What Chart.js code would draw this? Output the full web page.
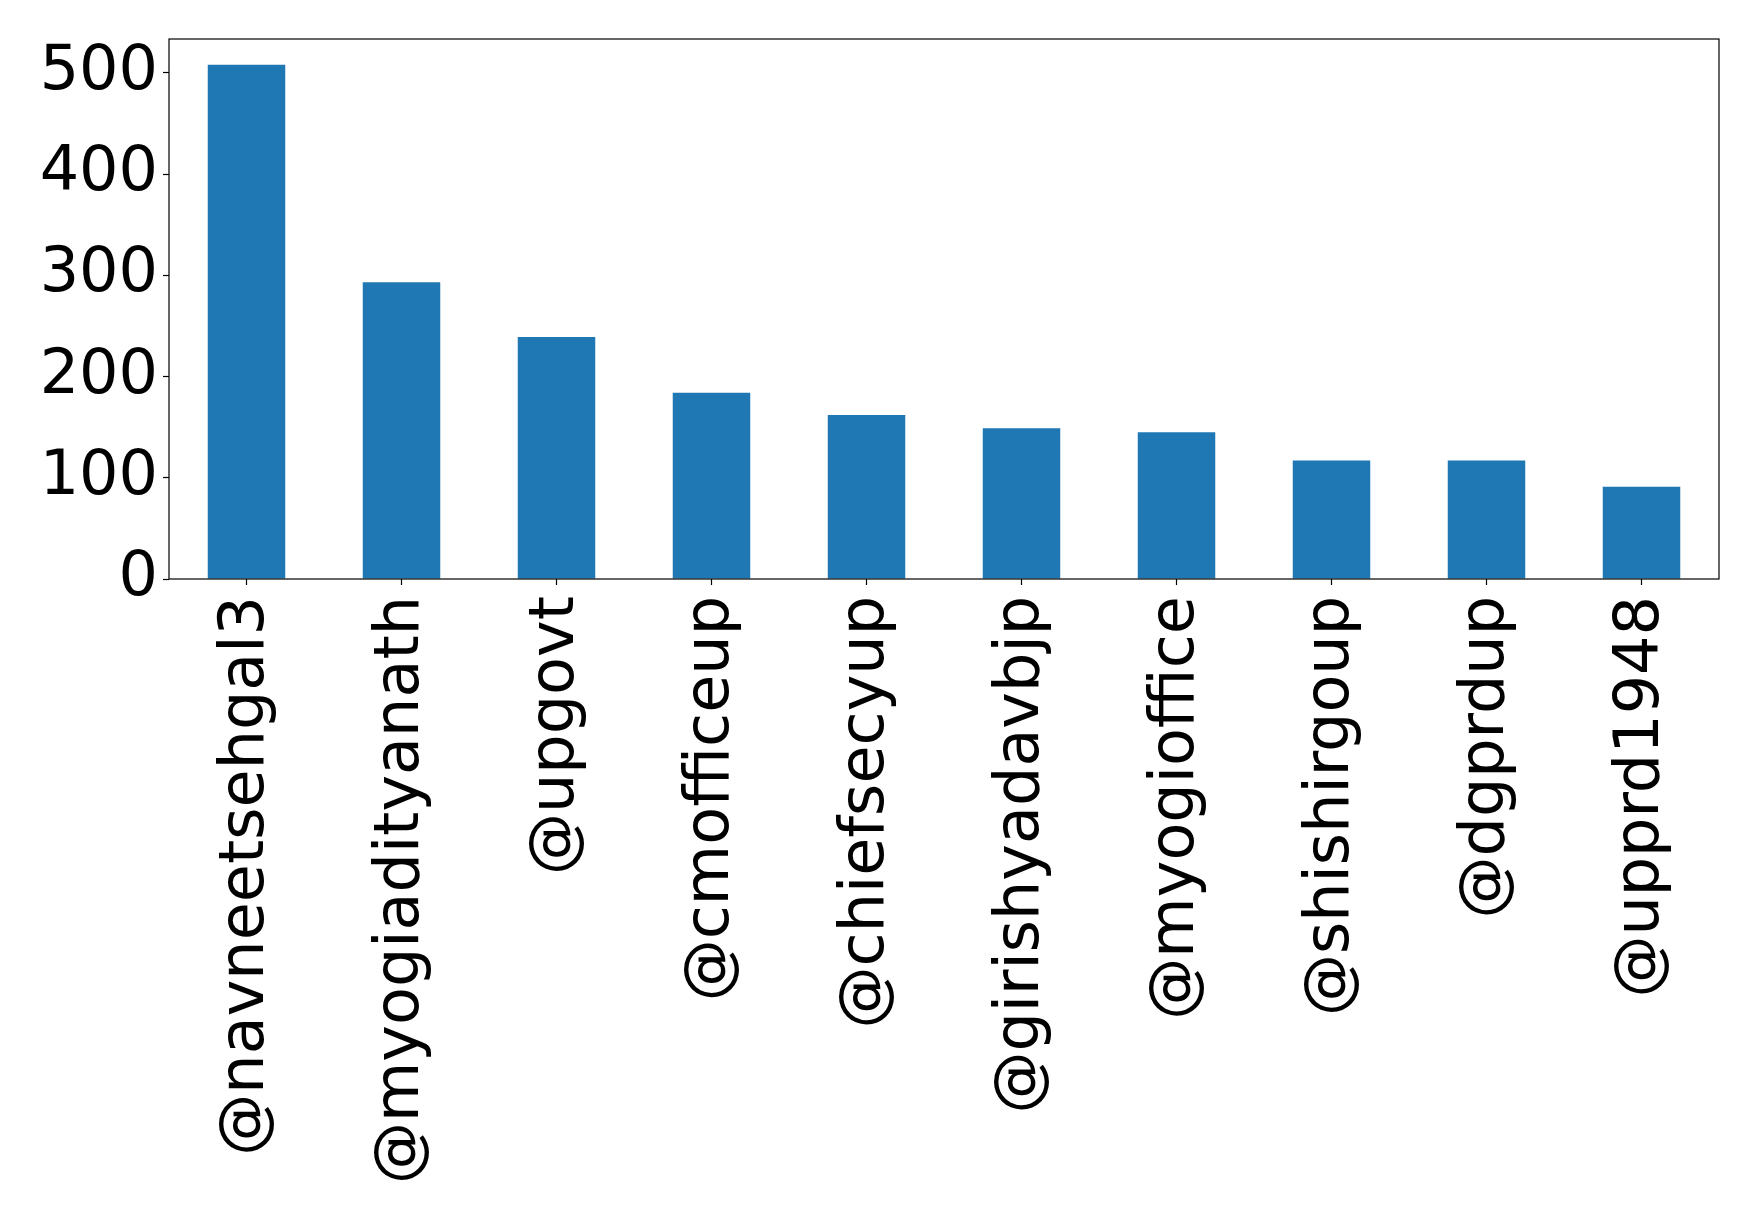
<!DOCTYPE html>
<html>
<head>
<meta charset="utf-8">
<script src="https://cdn.jsdelivr.net/npm/chart.js@4/dist/chart.umd.min.js"></script>
<style>
  html, body { margin: 0; padding: 0; background: #ffffff; }
  #wrap { width: 1759px; height: 1220px; }
</style>
</head>
<body>
<div id="wrap"><canvas id="chart" width="1759" height="1220"></canvas></div>
<script>
// Most-mentioned accounts and their mention counts
const handles = [
  '@navneetsehgal3', '@myogiadityanath', '@upgovt', '@cmofficeup', '@chiefsecyup',
  '@girishyadavbjp', '@myogioffice', '@shishirgoup', '@dgprdup', '@upprd1948'
];
const mentionCounts = [508, 293, 239, 184, 162, 149, 145, 117, 117, 91];
const yTickValues = [0, 100, 200, 300, 400, 500];

const FONT = { family: '"DejaVu Sans", "Liberation Sans", sans-serif', size: 62, lineHeight: 1.0 };
const yTop = Math.max(...mentionCounts) * 1.05;

// Draws the closed frame around the plotting area
const frame = {
  id: 'frame',
  afterDatasetsDraw(chart) {
    const { ctx, chartArea: a } = chart;
    ctx.save();
    ctx.strokeStyle = '#000';
    ctx.lineWidth = 1.2;
    ctx.strokeRect(a.left, a.top, a.right - a.left, a.bottom - a.top);
    ctx.restore();
  }
};

new Chart(document.getElementById('chart'), {
  type: 'bar',
  data: {
    labels: handles,
    datasets: [{
      data: mentionCounts,
      backgroundColor: '#1f77b4',
      borderWidth: 0,
      barPercentage: 0.5,
      categoryPercentage: 1.0
    }]
  },
  options: {
    responsive: false,
    animation: false,
    devicePixelRatio: 1,
    layout: { padding: { top: 39, right: 40, left: 0, bottom: 0 } },
    plugins: { legend: { display: false }, tooltip: { enabled: false } },
    scales: {
      x: {
        offset: true,
        grid: { display: true, drawOnChartArea: false, tickLength: 6, tickColor: '#000', tickWidth: 1.2, offset: false },
        border: { display: false },
        ticks: {
          color: '#000', font: FONT, minRotation: 90, maxRotation: 90,
          autoSkip: false, padding: 11
        },
        afterFit(scale) { scale.height = 641; }
      },
      y: {
        min: 0,
        max: yTop,
        grid: { display: true, drawOnChartArea: false, tickLength: 6, tickColor: '#000', tickWidth: 1.2 },
        border: { display: false },
        ticks: { color: '#000', font: FONT, padding: 5 },
        afterBuildTicks(scale) {
          scale.ticks = yTickValues.map(v => ({ value: v }));
        },
        afterFit(scale) { scale.width = 169; }
      }
    }
  },
  plugins: [frame]
});
</script>
</body>
</html>
